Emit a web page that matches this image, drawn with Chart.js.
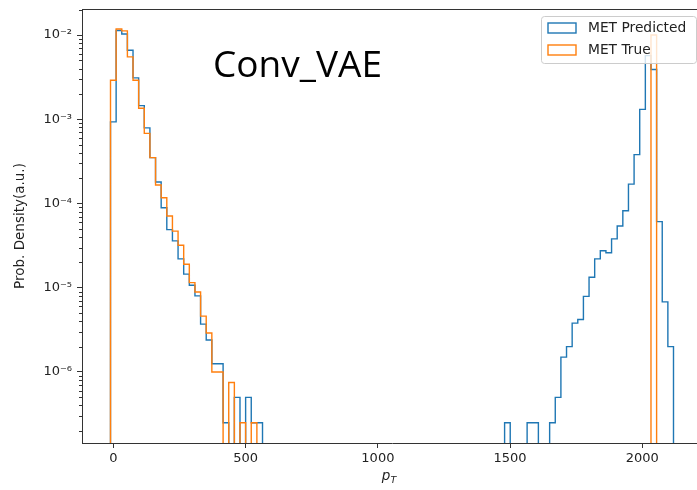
<!DOCTYPE html>
<html>
<head>
<meta charset="utf-8">
<script src="https://cdn.jsdelivr.net/npm/chart.js@4.4.1/dist/chart.umd.min.js"></script>
<style>
  html, body { margin: 0; padding: 0; background: #fff; overflow: hidden; }
  canvas { display: block; }
</style>
</head>
<body>
<canvas id="metChart" width="703" height="490"></canvas>
<script>
// histogram binning shared by both series (100 equal bins)
const binLo = -11.3;
const binHi = 2118;
const nBins = 100;

// normalised bin contents (prob. density), one entry per bin
const metPredicted = [
  9.3e-4, 0.0113, 0.0103, 0.0066, 0.0031, 0.00145, 0.00079, 0.00035, 0.00018, 8.9e-5,
  4.9e-5, 3.6e-5, 2.2e-5, 1.45e-5, 1.07e-5, 8.0e-6, 3.7e-6, 2.4e-6, 1.25e-6, 1.25e-6,
  2.5e-7, 0, 5e-7, 0, 5e-7, 2.5e-7, 2.5e-7, 0, 0, 0,
  0, 0, 0, 0, 0, 0, 0, 0, 0, 0,
  0, 0, 0, 0, 0, 0, 0, 0, 0, 0,
  0, 0, 0, 0, 0, 0, 0, 0, 0, 0,
  0, 0, 0, 0, 0, 0, 0, 0, 0, 0,
  2.5e-7, 0, 0, 0, 2.5e-7, 2.5e-7, 0, 0, 2.5e-7, 5e-7,
  1.5e-6, 2e-6, 3.8e-6, 4.2e-6, 7.9e-6, 1.33e-5, 2.2e-5, 2.75e-5, 2.6e-5, 3.8e-5,
  5.4e-5, 8.2e-5, 1.7e-4, 3.8e-4, 1.31e-3, 5.7e-3, 3.9e-3, 6.1e-5, 6.8e-6, 2e-6
];
const metTrue = [
  2.9e-3, 0.0118, 0.0112, 0.0055, 0.0029, 0.00135, 0.00068, 0.00035, 0.000166, 1.17e-4,
  7.1e-5, 4.7e-5, 3.2e-5, 1.9e-5, 1.15e-5, 8.9e-6, 4.6e-6, 2.9e-6, 1.0e-6, 1.0e-6,
  0, 7.5e-7, 0, 2.5e-7, 0, 2.5e-7, 0, 0, 0, 0,
  0, 0, 0, 0, 0, 0, 0, 0, 0, 0,
  0, 0, 0, 0, 0, 0, 0, 0, 0, 0,
  0, 0, 0, 0, 0, 0, 0, 0, 0, 0,
  0, 0, 0, 0, 0, 0, 0, 0, 0, 0,
  0, 0, 0, 0, 0, 0, 0, 0, 0, 0,
  0, 0, 0, 0, 0, 0, 0, 0, 0, 0,
  0, 0, 0, 0, 0, 0, 0.0100, 0, 0, 0
];

const seriesLabels = ['MET Predicted', 'MET True'];
const seriesColors = ['#1f77b4', '#ff7f0e'];
const xTicks = [0, 500, 1000, 1500, 2000];
const yDecades = [-6, -5, -4, -3, -2];

const xMin = -119.1, xMax = 2225.8;
const yMin = 1.435e-7, yMax = 0.02037;

// empty bins sit far below the axis so the outline drops to the bottom edge
const FLOOR = 1e-12;

// outline of a step histogram: up the first edge, across each bin, down the last edge
function stepPoints(vals) {
  const w = (binHi - binLo) / nBins;
  const pts = [{ x: binLo, y: FLOOR }];
  vals.forEach((v, i) => pts.push({ x: binLo + i * w, y: v > 0 ? v : FLOOR }));
  const last = vals[vals.length - 1];
  pts.push({ x: binHi, y: last > 0 ? last : FLOOR });
  pts.push({ x: binHi, y: FLOOR });
  return pts;
}

const SUP = { '-': '\u207B', '0': '\u2070', '1': '\u00B9', '2': '\u00B2', '3': '\u00B3',
  '4': '\u2074', '5': '\u2075', '6': '\u2076', '7': '\u2077', '8': '\u2078', '9': '\u2079' };
function powLabel(v) {
  const e = String(Math.round(Math.log10(v)));
  return '10' + e.split('').map(c => SUP[c]).join('');
}

const TEXT = '#222';
const AXIS = '#333';

// frame top, minor ticks, x label, legend box and the model name
const decorations = {
  id: 'decorations',
  afterDraw(chart) {
    const { ctx, chartArea: a } = chart;
    const y = chart.scales.y;
    ctx.save();

    ctx.strokeStyle = AXIS;
    ctx.lineWidth = 1;
    ctx.beginPath();
    ctx.moveTo(a.left, a.top + 0.5);
    ctx.lineTo(a.right, a.top + 0.5);
    ctx.stroke();

    // minor log ticks on the left spine
    ctx.beginPath();
    for (let e = -8; e <= -1; e++) {
      for (let m = 2; m <= 9; m++) {
        const v = m * Math.pow(10, e);
        if (v < yMin || v > yMax) continue;
        const py = Math.round(y.getPixelForValue(v)) + 0.5;
        ctx.moveTo(a.left - 3, py);
        ctx.lineTo(a.left, py);
      }
    }
    ctx.stroke();

    // x axis label p_T
    ctx.fillStyle = TEXT;
    ctx.textBaseline = 'alphabetic';
    ctx.font = 'italic 13.5px "DejaVu Sans"';
    const pW = ctx.measureText('p').width;
    ctx.font = 'italic 9.5px "DejaVu Sans"';
    const tW = ctx.measureText('T').width;
    const cx = 389 - (pW + tW) / 2;
    ctx.font = 'italic 13.5px "DejaVu Sans"';
    ctx.fillText('p', cx, 480);
    ctx.font = 'italic 9.5px "DejaVu Sans"';
    ctx.fillText('T', cx + pW, 483);

    // legend
    const lx = 541, ly = 16, lw = 155, lh = 47;
    ctx.beginPath();
    ctx.roundRect(lx + 0.5, ly + 0.5, lw, lh, 3);
    ctx.fillStyle = 'rgba(255,255,255,0.8)';
    ctx.fill();
    ctx.strokeStyle = '#cccccc';
    ctx.stroke();
    ctx.font = '13.8px "DejaVu Sans"';
    ctx.textBaseline = 'middle';
    seriesLabels.forEach((lab, i) => {
      const ry = ly + 7 + i * 22;
      ctx.strokeStyle = seriesColors[i];
      ctx.lineWidth = 1.4;
      ctx.strokeRect(lx + 7, ry, 28, 10);
      ctx.fillStyle = TEXT;
      ctx.fillText(lab, lx + 47, ry + 5.5);
    });

    // model name
    ctx.fillStyle = '#000';
    ctx.textBaseline = 'alphabetic';
    ctx.font = '37px "Open Sans"';
    ctx.fillText('Conv_VAE', 213, 77);

    ctx.restore();
  }
};

Chart.defaults.font.family = '"DejaVu Sans"';

new Chart(document.getElementById('metChart'), {
  type: 'line',
  data: {
    datasets: [
      {
        label: seriesLabels[0],
        data: stepPoints(metPredicted),
        borderColor: seriesColors[0],
        borderWidth: 1.4,
        order: 2
      },
      {
        label: seriesLabels[1],
        data: stepPoints(metTrue),
        borderColor: seriesColors[1],
        borderWidth: 1.4,
        order: 1
      }
    ]
  },
  options: {
    responsive: false,
    animation: false,
    events: [],
    layout: { padding: { top: 9, right: 1, left: 0, bottom: 0 } },
    elements: {
      line: { stepped: 'before', tension: 0, fill: false },
      point: { radius: 0 }
    },
    datasets: { line: { clip: 0 } },
    plugins: {
      legend: { display: false },
      tooltip: { enabled: false }
    },
    scales: {
      x: {
        type: 'linear',
        min: xMin,
        max: xMax,
        afterBuildTicks: s => { s.ticks = xTicks.map(v => ({ value: v })); },
        afterFit: s => { s.height = 47; s.paddingLeft = 0; s.paddingRight = 0; },
        grid: { drawOnChartArea: false, drawTicks: true, tickLength: 5, tickColor: AXIS, tickWidth: 1 },
        border: { display: true, color: AXIS, width: 1 },
        ticks: {
          color: TEXT,
          font: { size: 13 },
          padding: 3,
          maxRotation: 0,
          autoSkip: false,
          callback: v => String(v)
        }
      },
      y: {
        type: 'logarithmic',
        min: yMin,
        max: yMax,
        afterBuildTicks: s => { s.ticks = yDecades.map(e => ({ value: Math.pow(10, e) })); },
        afterFit: s => { s.width = 82; s.paddingTop = 0; s.paddingBottom = 0; },
        grid: { drawOnChartArea: false, drawTicks: true, tickLength: 5, tickColor: AXIS, tickWidth: 1 },
        border: { display: true, color: AXIS, width: 1 },
        ticks: {
          color: TEXT,
          font: { size: 13 },
          padding: 5,
          autoSkip: false,
          callback: v => powLabel(v)
        },
        title: {
          display: true,
          text: 'Prob. Density(a.u.)',
          color: TEXT,
          font: { size: 13.5 },
          padding: { top: 12, bottom: 0 }
        }
      }
    }
  },
  plugins: [decorations]
});
</script>
</body>
</html>
